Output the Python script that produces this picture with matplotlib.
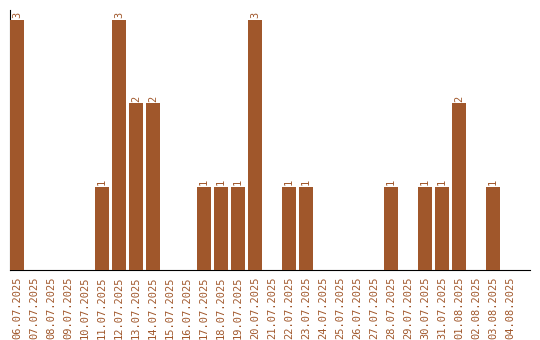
import matplotlib
matplotlib.use("Agg")
import matplotlib.pyplot as plt
import numpy as np

# daily counts, 06.07.2025 - 04.08.2025
dates = [
    "06.07.2025", "07.07.2025", "08.07.2025", "09.07.2025", "10.07.2025",
    "11.07.2025", "12.07.2025", "13.07.2025", "14.07.2025", "15.07.2025",
    "16.07.2025", "17.07.2025", "18.07.2025", "19.07.2025", "20.07.2025",
    "21.07.2025", "22.07.2025", "23.07.2025", "24.07.2025", "25.07.2025",
    "26.07.2025", "27.07.2025", "28.07.2025", "29.07.2025", "30.07.2025",
    "31.07.2025", "01.08.2025", "02.08.2025", "03.08.2025", "04.08.2025",
]
counts = [3, 0, 0, 0, 0, 1, 3, 2, 2, 0,
          0, 1, 1, 1, 3, 0, 1, 1, 0, 0,
          0, 0, 1, 0, 1, 1, 2, 0, 1, 0]

BAR = "#a0572b"
TXT = "#a0572b"

fig = plt.figure(figsize=(5.4, 3.4), dpi=100)
ax = fig.add_axes([10 / 540, 70 / 340, 520 / 540, 260 / 340])

x = np.arange(len(dates))
w = 14 / 17
bars = ax.bar(x, counts, width=w, color=BAR, zorder=3)

for xi, c in zip(x, counts):
    if c > 0:
        ax.text(xi, c + 0.02, str(c), rotation=90, ha="center", va="bottom",
                fontsize=7.5, family="DejaVu Sans Mono", color=TXT)

ax.set_xlim(-w / 2, -w / 2 + 520 / 17)
ax.set_ylim(0, 3 * 260 / 250)
ax.set_xticks(x)
ax.set_xticklabels(dates, rotation=90, fontsize=7.5, family="DejaVu Sans Mono", color=TXT)
ax.tick_params(axis="x", length=0, pad=5)
ax.set_yticks([])
ax.spines["top"].set_visible(False)
ax.spines["right"].set_visible(False)
ax.spines["left"].set_color("black")
ax.spines["bottom"].set_color("black")

fig.savefig("out.png", dpi=100)
